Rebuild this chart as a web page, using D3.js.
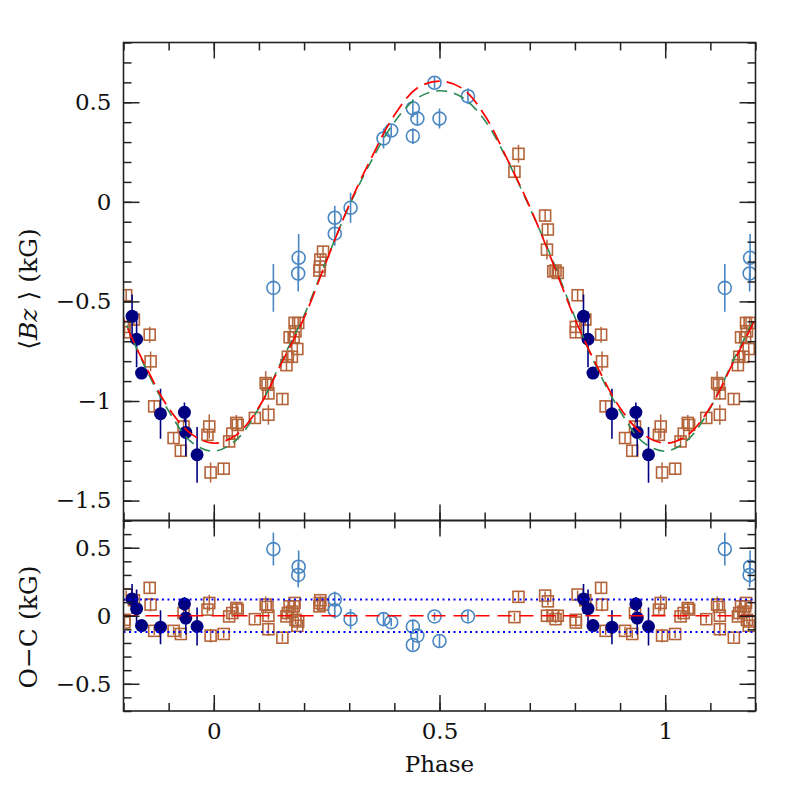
<!DOCTYPE html>
<html>
<head>
<meta charset="utf-8">
<title>Bz phase curve</title>
<script src="https://d3js.org/d3.v7.min.js"></script>
<style>
  body { margin: 0; background: #fff; }
  .tick text { font-family: "DejaVu Serif", serif; font-size: 23px; fill: #111; }
  .tick line { stroke: #222; stroke-width: 1.5; }
  .lbl { font-family: "DejaVu Serif", serif; font-size: 23px; fill: #111; }
  .ylbl { font-family: "DejaVu Serif", serif; font-size: 25px; fill: #111; }
</style>
</head>
<body>
<div id="chart"></div>
<script>
// rows: [phase, <Bz> (kG), error (kG), O-C (kG)] ; phases in [0,1), plot repeats them by +-1
var blueCircles = [
  [0.132, -0.432, 0.12, 0.49],
  [0.188, -0.281, 0.12, 0.36],
  [0.187, -0.360, 0.09, 0.30],
  [0.268, -0.080, 0.06, 0.119],
  [0.268, -0.160, 0.06, 0.04],
  [0.303, -0.030, 0.075, -0.025],
  [0.376, 0.318, 0.05, -0.025],
  [0.393, 0.358, 0.03, -0.047],
  [0.441, 0.470, 0.045, -0.08],
  [0.451, 0.418, 0.03, -0.146],
  [0.441, 0.330, 0.04, -0.215],
  [0.500, 0.418, 0.05, -0.186],
  [0.489, 0.598, 0.03, -0.005],
  [0.563, 0.530, 0.04, -0.005]
];

var brownSquares = [
  [0.022, -1.340, 0.03, -0.134],
  [0.034, -1.203, 0.03, -0.005],
  [0.041, -1.164, 0.03, 0.020],
  [0.050, -1.110, 0.04, 0.057],
  [0.053, -1.120, 0.03, 0.045],
  [0.091, -1.085, 0.03, -0.025],
  [0.115, -0.910, 0.06, 0.082],
  [0.119, -0.918, 0.03, 0.065],
  [0.121, -0.962, 0.03, 0.000],
  [0.121, -1.069, 0.05, -0.099],
  [0.152, -0.990, 0.03, -0.161],
  [0.161, -0.820, 0.03, -0.005],
  [0.164, -0.778, 0.03, 0.020],
  [0.173, -0.778, 0.03, 0.030],
  [0.185, -0.739, 0.03, -0.074],
  [0.168, -0.680, 0.03, 0.069],
  [0.177, -0.680, 0.03, 0.069],
  [0.179, -0.608, 0.03, 0.094],
  [0.187, -0.608, 0.03, -0.042],
  [0.181, -0.650, 0.03, -0.030],
  [0.234, -0.345, 0.03, 0.069],
  [0.235, -0.325, 0.03, 0.094],
  [0.236, -0.290, 0.03, 0.114],
  [0.242, -0.250, 0.03, 0.082],
  [0.666, 0.151, 0.03, -0.010],
  [0.675, 0.241, 0.045, 0.139],
  [0.734, -0.069, 0.03, 0.148],
  [0.740, -0.139, 0.03, 0.106],
  [0.738, -0.240, 0.05, 0.000],
  [0.752, -0.349, 0.03, 0.000],
  [0.757, -0.345, 0.03, -0.025],
  [0.762, -0.357, 0.03, 0.000],
  [0.806, -0.469, 0.03, 0.156],
  [0.823, -0.591, 0.03, 0.114],
  [0.802, -0.628, 0.03, -0.030],
  [0.802, -0.655, 0.03, -0.050],
  [0.858, -0.667, 0.04, 0.205],
  [0.860, -0.801, 0.05, 0.082],
  [0.868, -1.027, 0.03, -0.111],
  [0.911, -1.186, 0.03, -0.111],
  [0.927, -1.250, 0.03, -0.134],
  [0.933, -1.128, 0.03, 0.020],
  [0.990, -1.128, 0.06, 0.094],
  [0.986, -1.170, 0.03, 0.045],
  [0.993, -1.359, 0.05, -0.146]
];

var navyDots = [
  [0.819, -0.575, 0.11, 0.124],
  [0.829, -0.690, 0.14, 0.052],
  [0.840, -0.860, 0.03, -0.072],
  [0.882, -1.064, 0.125, -0.084],
  [0.935, -1.057, 0.05, 0.087],
  [0.938, -1.158, 0.12, -0.017],
  [0.963, -1.270, 0.14, -0.079]
];

// model curves
var curvePhase = [0, 0.05, 0.1, 0.15, 0.2, 0.25, 0.3, 0.35, 0.4, 0.45, 0.5,
                  0.55, 0.6, 0.65, 0.7, 0.75, 0.8, 0.85, 0.9, 0.95];
var redFit = [-1.212, -1.17, -1.03, -0.81, -0.583, -0.295, -0.015, 0.225, 0.435, 0.57, 0.606,
              0.57, 0.435, 0.215, -0.025, -0.30, -0.588, -0.83, -1.035, -1.165];
var greenFit = [-1.252, -1.195, -1.035, -0.80, -0.57, -0.29, -0.02, 0.21, 0.40, 0.52, 0.558,
                0.525, 0.41, 0.21, -0.03, -0.29, -0.58, -0.84, -1.05, -1.205];

var ocBand = 0.12;

var W = 797, H = 797;
var plotL = 123.5, plotR = 755.5, plotT = 42.5, plotM = 520.5, plotB = 711;

var svg = d3.select("#chart").append("svg")
    .attr("width", W).attr("height", H);

var x = d3.scaleLinear().domain([-0.2, 1.2]).range([plotL, plotR]);
var yTop = d3.scaleLinear().domain([-1.6, 0.8]).range([plotM, plotT]);
var yBot = d3.scaleLinear().domain([-0.7, 0.7]).range([plotB, plotM]);

// repeat phase-folded rows one cycle either side
function wrap(rows) {
  var out = [];
  rows.forEach(function(r) {
    [-1, 0, 1].forEach(function(k) {
      var p = r[0] + k;
      if (p >= -0.205 && p <= 1.205) out.push([p, r[1], r[2], r[3]]);
    });
  });
  return out;
}
function wrapCurve(vals) {
  var out = [];
  [-1, 0, 1].forEach(function(k) {
    curvePhase.forEach(function(p, i) {
      if (p + k >= -0.35 && p + k <= 1.35) out.push([p + k, vals[i]]);
    });
  });
  return out;
}

var defs = svg.append("defs");
defs.append("clipPath").attr("id", "clipTop").append("rect")
    .attr("x", plotL).attr("y", plotT).attr("width", plotR - plotL).attr("height", plotM - plotT);
defs.append("clipPath").attr("id", "clipBot").append("rect")
    .attr("x", plotL).attr("y", plotM).attr("width", plotR - plotL).attr("height", plotB - plotM);

var blueCol = "#4a87c2", brownCol = "#b4643a", navyCol = "#000080";

function drawPanel(g, y, col) {
  // col: 1 -> Bz, 3 -> O-C
  function errBars(rows, color, w) {
    g.selectAll(null).data(rows).enter().append("line")
      .attr("x1", function(d) { return x(d[0]); })
      .attr("x2", function(d) { return x(d[0]); })
      .attr("y1", function(d) { return y(d[col] - d[2]); })
      .attr("y2", function(d) { return y(d[col] + d[2]); })
      .attr("stroke", color).attr("stroke-width", w);
  }
  var br = wrap(brownSquares), bl = wrap(blueCircles), nv = wrap(navyDots);

  errBars(br, brownCol, 1.5);
  g.selectAll(null).data(br).enter().append("rect")
    .attr("x", function(d) { return x(d[0]) - 5.5; })
    .attr("y", function(d) { return y(d[col]) - 5.5; })
    .attr("width", 11).attr("height", 11)
    .attr("fill", "none").attr("stroke", brownCol).attr("stroke-width", 1.6);

  errBars(bl, blueCol, 1.6);
  g.selectAll(null).data(bl).enter().append("circle")
    .attr("cx", function(d) { return x(d[0]); })
    .attr("cy", function(d) { return y(d[col]); })
    .attr("r", 6.5)
    .attr("fill", "none").attr("stroke", blueCol).attr("stroke-width", 1.6);

  errBars(nv, navyCol, 1.6);
  g.selectAll(null).data(nv).enter().append("circle")
    .attr("cx", function(d) { return x(d[0]); })
    .attr("cy", function(d) { return y(d[col]); })
    .attr("r", 6.5)
    .attr("fill", navyCol);
}

// top panel
var gTop = svg.append("g").attr("clip-path", "url(#clipTop)");
drawPanel(gTop, yTop, 1);

var line = d3.line()
    .x(function(d) { return x(d[0]); })
    .y(function(d) { return yTop(d[1]); })
    .curve(d3.curveCatmullRom.alpha(0.5));

gTop.append("path").datum(wrapCurve(greenFit))
    .attr("d", line).attr("fill", "none")
    .attr("stroke", "#2e8b57").attr("stroke-width", 1.6)
    .attr("stroke-dasharray", "11,7");
gTop.append("path").datum(wrapCurve(redFit))
    .attr("d", line).attr("fill", "none")
    .attr("stroke", "#ff0000").attr("stroke-width", 1.7)
    .attr("stroke-dasharray", "16,7");

// bottom panel
var gBot = svg.append("g").attr("clip-path", "url(#clipBot)");
drawPanel(gBot, yBot, 3);

[ocBand, -ocBand].forEach(function(v) {
  gBot.append("line")
    .attr("x1", plotL).attr("x2", plotR)
    .attr("y1", yBot(v)).attr("y2", yBot(v))
    .attr("stroke", "#0000ff").attr("stroke-width", 2)
    .attr("stroke-dasharray", "2,3.5");
});
gBot.append("line")
    .attr("x1", plotL).attr("x2", plotR)
    .attr("y1", yBot(0)).attr("y2", yBot(0))
    .attr("stroke", "#ff0000").attr("stroke-width", 1.6)
    .attr("stroke-dasharray", "14,8");

// axes: inward ticks on all four sides of both panels
var xMajor = [0, 0.5, 1];
var xMinor = d3.range(-2, 13).map(function(i) { return i / 10; });
var yTopMajor = [-1.5, -1, -0.5, 0, 0.5];
var yTopMinor = d3.range(-16, 9).map(function(i) { return i / 10; });
var yBotMajor = [-0.5, 0, 0.5];
var yBotMinor = d3.range(-7, 8).map(function(i) { return i / 10; });

function addAxis(axisFn, scale, pos, major, minor, labels) {
  var gMin = svg.append("g").attr("transform", pos)
    .call(axisFn(scale).tickValues(minor).tickSize(-8).tickSizeOuter(0).tickFormat(""));
  var gMaj = svg.append("g").attr("transform", pos)
    .call(axisFn(scale).tickValues(major).tickSize(-16).tickSizeOuter(0)
      .tickPadding(labels ? 12 : 0)
      .tickFormat(labels ? d3.format("") : ""));
  gMin.select(".domain").remove();
  gMaj.select(".domain").remove();
  return gMaj;
}

addAxis(d3.axisBottom, x, "translate(0," + plotB + ")", xMajor, xMinor, true);
addAxis(d3.axisTop, x, "translate(0," + plotM + ")", xMajor, xMinor, false);
addAxis(d3.axisBottom, x, "translate(0," + plotM + ")", xMajor, xMinor, false);
addAxis(d3.axisTop, x, "translate(0," + plotT + ")", xMajor, xMinor, false);

addAxis(d3.axisLeft, yTop, "translate(" + plotL + ",0)", yTopMajor, yTopMinor, true);
addAxis(d3.axisRight, yTop, "translate(" + plotR + ",0)", yTopMajor, yTopMinor, false);
addAxis(d3.axisLeft, yBot, "translate(" + plotL + ",0)", yBotMajor, yBotMinor, true);
addAxis(d3.axisRight, yBot, "translate(" + plotR + ",0)", yBotMajor, yBotMinor, false);

// frames
[[plotT, plotM], [plotM, plotB]].forEach(function(p) {
  svg.append("rect")
    .attr("x", plotL).attr("y", p[0])
    .attr("width", plotR - plotL).attr("height", p[1] - p[0])
    .attr("fill", "none").attr("stroke", "#222").attr("stroke-width", 1.6);
});

// axis labels
svg.append("text").attr("class", "lbl")
    .attr("x", (plotL + plotR) / 2).attr("y", 772)
    .attr("text-anchor", "middle").text("Phase");

var yl = svg.append("text").attr("class", "ylbl")
    .attr("transform", "translate(37,289) rotate(-90)")
    .attr("text-anchor", "middle");
yl.append("tspan").text("\u27E8");
yl.append("tspan").attr("font-style", "italic").text("Bz");
yl.append("tspan").text(" \u27E9 (kG)");

svg.append("text").attr("class", "ylbl")
    .attr("transform", "translate(37,627) rotate(-90)")
    .attr("text-anchor", "middle").text("O\u2212C (kG)");
</script>
</body>
</html>
